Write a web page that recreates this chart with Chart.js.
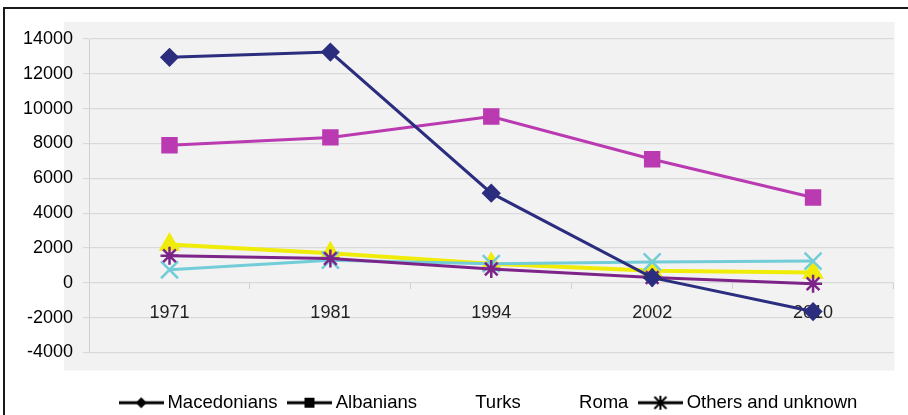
<!DOCTYPE html>
<html>
<head>
<meta charset="utf-8">
<script src="https://cdn.jsdelivr.net/npm/chart.js@4.4.0/dist/chart.umd.min.js"></script>
<style>
    html, body { margin: 0; padding: 0; background: #fff; overflow: hidden; }
    #cadre { position: absolute; left: 3px; top: 7px; width: 940px; height: 440px; border: 2px solid #1a1a1a; }
    #zone { position: absolute; left: 0; top: 0; width: 908px; height: 415px; }
</style>
</head>
<body>
<div id="cadre"></div>
<div id="zone"><canvas id="myChart"></canvas></div>
<script>
// Données
const annees = ['1971', '1981', '1994', '2002', '2010'];
const macedonians = [12950, 13250, 5150, 300, -1650];
const albanians = [7900, 8350, 9550, 7100, 4900];
const turks = [2200, 1700, 1100, 700, 600];
const roma = [750, 1300, 1100, 1200, 1250];
const autres = [1550, 1400, 800, 300, -50];

// Graduations de l'axe vertical
const yMin = -4000;
const yMax = 14000;
const yPas = 2000;

Chart.defaults.font.family = "'Liberation Sans', Arial, sans-serif";

// Petite icone de legende : trait noir + marqueur
function iconeLegende(marqueur) {
    const c = document.createElement('canvas');
    c.width = 45;
    c.height = 16;
    const ctx = c.getContext('2d');
    if (marqueur === 'aucun') {
        return c;
    }
    ctx.strokeStyle = '#000';
    ctx.fillStyle = '#000';
    ctx.lineWidth = 3;
    ctx.beginPath();
    ctx.moveTo(0, 8);
    ctx.lineTo(45, 8);
    ctx.stroke();
    const cx = 22, cy = 8;
    ctx.beginPath();
    if (marqueur === 'losange') {
        ctx.moveTo(cx - 5.5, cy);
        ctx.lineTo(cx, cy - 5.5);
        ctx.lineTo(cx + 5.5, cy);
        ctx.lineTo(cx, cy + 5.5);
        ctx.closePath();
        ctx.fill();
    } else if (marqueur === 'carre') {
        ctx.fillRect(cx - 5, cy - 5, 10, 10);
    } else if (marqueur === 'etoile') {
        ctx.lineWidth = 2;
        ctx.moveTo(cx, cy - 7);
        ctx.lineTo(cx, cy + 7);
        ctx.moveTo(cx - 6, cy - 6);
        ctx.lineTo(cx + 6, cy + 6);
        ctx.moveTo(cx + 6, cy - 6);
        ctx.lineTo(cx - 6, cy + 6);
        ctx.stroke();
    }
    return c;
}

const icones = [
    iconeLegende('losange'),
    iconeLegende('carre'),
    iconeLegende('aucun'),
    iconeLegende('aucun'),
    iconeLegende('etoile')
];

// Fond gris derriere la zone du graphe
const fondGris = {
    id: 'fondGris',
    beforeDraw(chart) {
        const { ctx, chartArea } = chart;
        ctx.save();
        ctx.fillStyle = '#f2f2f2';
        ctx.fillRect(chartArea.left - 25, chartArea.top - 17, chartArea.width + 26, chartArea.height + 35);
        ctx.restore();
    }
};

const ctx = document.getElementById('myChart').getContext('2d');

const myChart = new Chart(ctx, {
    type: 'line',
    data: {
        labels: annees,
        datasets: [
            {
                label: 'Macedonians',
                data: macedonians,
                borderColor: '#2b2d7e',
                backgroundColor: '#2b2d7e',
                borderWidth: 3,
                pointStyle: 'rectRot',
                pointRadius: 7.5,
                order: 0
            },
            {
                label: 'Albanians',
                data: albanians,
                borderColor: '#ba3ab1',
                backgroundColor: '#ba3ab1',
                borderWidth: 3,
                pointStyle: 'rect',
                pointRadius: 9.5,
                order: 1
            },
            {
                label: 'Turks',
                data: turks,
                borderColor: '#f0ec0a',
                backgroundColor: '#f0ec0a',
                borderWidth: 4,
                pointStyle: 'triangle',
                pointRadius: 8.5,
                order: 4
            },
            {
                label: 'Roma',
                data: roma,
                borderColor: '#72cdd8',
                backgroundColor: '#72cdd8',
                borderWidth: 3,
                pointStyle: 'crossRot',
                pointRadius: 12,
                pointBorderWidth: 2.5,
                order: 3
            },
            {
                label: 'Others and unknown',
                data: autres,
                borderColor: '#7d2489',
                backgroundColor: '#7d2489',
                borderWidth: 3,
                pointStyle: 'star',
                pointRadius: 9,
                pointBorderWidth: 2.5,
                order: 2
            }
        ]
    },
    options: {
        responsive: true,
        maintainAspectRatio: false,
        animation: false,
        layout: {
            padding: { left: 13, right: 10, top: 39, bottom: -7 }
        },
        plugins: {
            tooltip: { enabled: false },
            legend: {
                display: true,
                position: 'bottom',
                fullSize: false,
                title: {
                    display: true,
                    text: '',
                    font: { size: 18 },
                    padding: { top: 0, bottom: 3.4 }
                },
                labels: {
                    usePointStyle: true,
                    pointStyleWidth: 33,
                    padding: 16,
                    color: '#000',
                    font: { size: 18.5 },
                    generateLabels: chart => chart.data.datasets.map((ds, i) => ({
                        text: ds.label,
                        pointStyle: icones[i],
                        fillStyle: 'transparent',
                        strokeStyle: 'transparent',
                        lineWidth: 0,
                        hidden: !chart.isDatasetVisible(i),
                        datasetIndex: i,
                        fontColor: '#000'
                    }))
                }
            }
        },
        scales: {
            x: {
                position: { y: 0 },
                offset: true,
                ticks: {
                    color: '#222',
                    font: { size: 18 },
                    padding: 13,
                    maxRotation: 0
                },
                grid: {
                    offset: true,
                    drawOnChartArea: false,
                    tickLength: 6,
                    color: '#d0d0d0'
                },
                border: { color: '#d9d9d9' }
            },
            y: {
                min: yMin,
                max: yMax,
                ticks: {
                    stepSize: yPas,
                    color: '#000',
                    font: { size: 18 },
                    padding: 10,
                    callback: v => String(v)
                },
                grid: {
                    color: '#d9d9d9',
                    tickLength: 6,
                    lineWidth: 1.2
                },
                border: { color: '#d0d0d0' }
            }
        }
    },
    plugins: [fondGris]
});
</script>
</body>
</html>
